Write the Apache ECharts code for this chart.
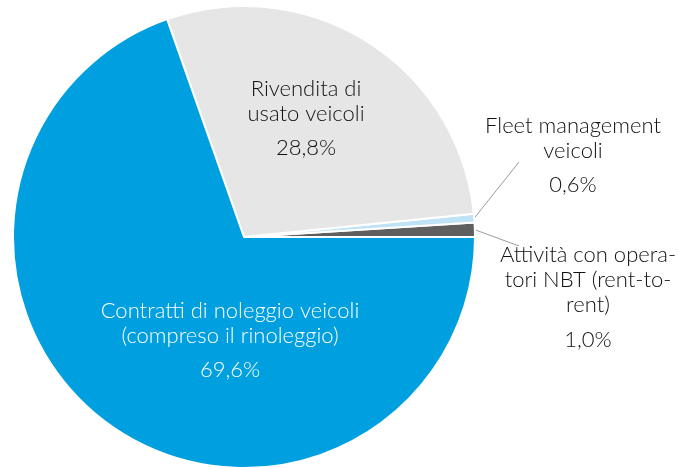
<!DOCTYPE html>
<html>
<head>
<meta charset="utf-8">
<title>Ripartizione ricavi</title>
<script src="https://cdn.jsdelivr.net/npm/echarts@6/dist/echarts.min.js"></script>
<style>
  html, body { margin: 0; padding: 0; background: #fff; }
  #chart { width: 679px; height: 468px; }
</style>
</head>
<body>
<div id="chart"></div>
<script>
// dati del grafico (percentuali), in senso antiorario partendo da destra
const categories = [
  'Attività con opera-\ntori NBT (rent-to-\nrent)',
  'Fleet management\nveicoli',
  'Rivendita di\nusato veicoli',
  'Contratti di noleggio veicoli\n(compreso il rinoleggio)'
]
const values = [1.0, 0.6, 28.8, 69.6]
const valueLabels = ['1,0%', '0,6%', '28,8%', '69,6%']
const colors = ['#5f5f5f', '#bfe3f5', '#e6e6e6', '#009fe0']

// posizione dei testi (centro del blocco) e fine della linea guida
const labelSpots = [
  { x: 588, y: 302, lineEnd: [519, 246] },
  { x: 573, y: 160, lineEnd: [519, 162] },
  { x: 306, y: 123, lineEnd: null },
  { x: 230, y: 345, lineEnd: null }
]

function richStyle (color) {
  return {
    n: { fontFamily: 'Lato', fontWeight: 300, fontSize: 22, lineHeight: 25, color: color, align: 'center' },
    p: { fontFamily: 'Lato', fontWeight: 300, fontSize: 22, lineHeight: 44, color: color, align: 'center' }
  }
}

const chart = echarts.init(document.getElementById('chart'))

const option = {
  animation: false,
  series: [
    {
      type: 'pie',
      center: [244, 237],
      radius: 231,
      startAngle: 0,
      clockwise: false,
      itemStyle: {
        borderColor: '#fff',
        borderWidth: 2
      },
      label: {
        show: true,
        position: 'outside',
        overflow: 'none',
        formatter: (p) => '{n|' + p.name + '}\n{p|' + valueLabels[p.dataIndex] + '}',
        rich: richStyle('#111')
      },
      labelLine: {
        show: true,
        length: 10,
        length2: 10,
        lineStyle: { color: '#9a9a9a', width: 1 }
      },
      labelLayout: (params) => {
        const s = labelSpots[params.dataIndex]
        const res = { x: s.x, y: s.y, align: 'center', verticalAlign: 'middle' }
        if (s.lineEnd && params.labelLinePoints) {
          res.labelLinePoints = [params.labelLinePoints[0], s.lineEnd, s.lineEnd]
        }
        return res
      },
      data: categories.map((name, i) => {
        const d = { name: name, value: values[i], itemStyle: { color: colors[i] } }
        if (i >= 2) {
          d.labelLine = { show: false }
        }
        if (i === 3) {
          d.label = { rich: richStyle('#fff') }
        }
        return d
      })
    }
  ]
}

chart.setOption(option)
</script>
</body>
</html>
